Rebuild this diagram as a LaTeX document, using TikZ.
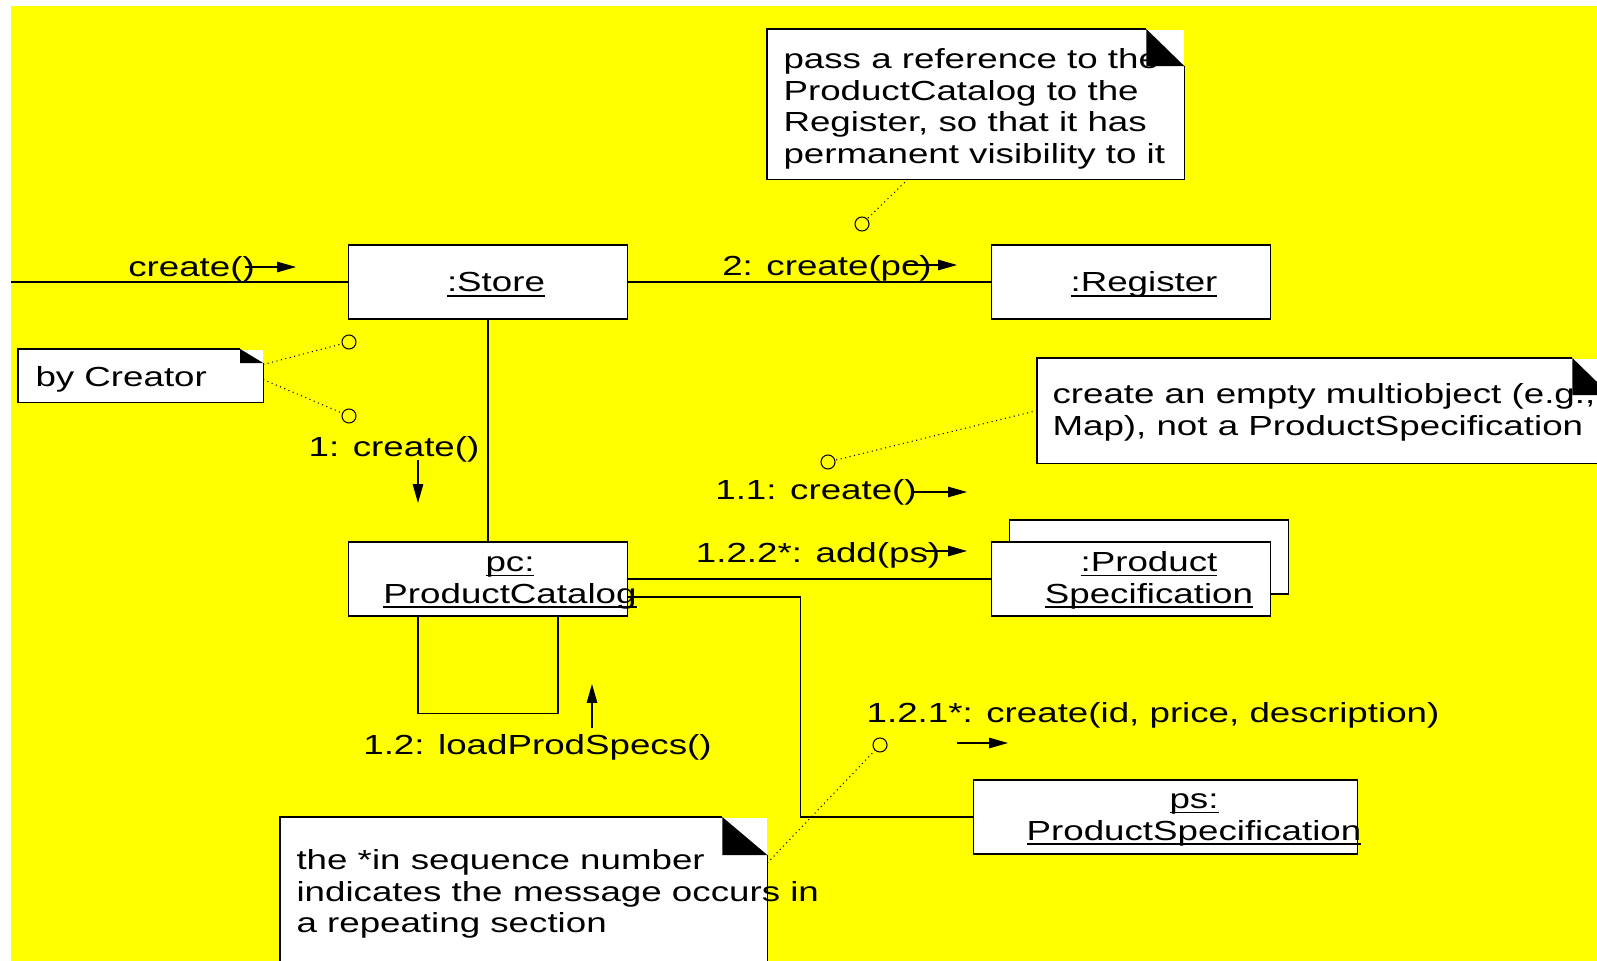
\documentclass[tikz,border=0pt]{standalone}
\usepackage{fontspec}
\setmainfont[FakeStretch=1.33]{Liberation Sans}
\usetikzlibrary{arrows.meta,calc}
\definecolor{canvas}{RGB}{255,255,0}
\tikzset{msg/.style = {-{Triangle[length=5.4pt,width=3pt]}}}

% underlined object name, line close under the baseline
\newcommand{\objname}[1]{\setbox0\hbox{#1}\rlap{\rule[-1.4pt]{\wd0}{0.5pt}}\box0}

% folded corner of a note: node, fold width, fold height
\newcommand{\dogear}[3]{%
  \draw ([xshift=-#2]#1.north east) -- (#1.north west) -- (#1.south west)
        -- (#1.south east) -- ([yshift=-#3]#1.north east);
  \fill ([xshift=-#2]#1.north east) -- ([xshift=-#2,yshift=-#3]#1.north east)
        -- ([yshift=-#3]#1.north east) -- cycle;}

\begin{document}
\begin{tikzpicture}[x=0.01cm,y=-0.01cm,line width=0.3pt,
    obj/.style={draw,fill=white,inner sep=0pt,minimum width=2.78cm,minimum height=0.74cm},
    lbl/.style={inner sep=0pt,anchor=base,font=\fontsize{7.85}{9}\selectfont},
    note/.style={fill=white,inner sep=0pt,anchor=north west},
    port/.style={circle,draw,inner sep=0pt,minimum size=0.14cm},
    link/.style={densely dotted,line width=0.3pt}]
    \fill[white] (0,0) rectangle (1597,961);
    \fill[canvas] (11,6) rectangle (1597,961);
    \useasboundingbox (0,0) rectangle (1597,961);

    % objects
    \node[obj] (store) at (488,282) {};
    \node[obj] (reg) at (1131,282) {};
    \node[obj] (pc) at (488,579) {};
    \node[obj] (specs2) at (1149,557) {};
    \node[obj] (specs) at (1131,579) {};
    \node[obj,minimum width=3.83cm] (ps) at (1165.5,817) {};

    \node[lbl] (storetxt) at (496,292) {\objname{:Store}};
    \node[lbl] (regtxt) at (1144,292) {\objname{:Register}};
    \node[lbl,align=center] (pctxt) at (510,603) {\objname{pc:}\\\objname{ProductCatalog}};
    \node[lbl,align=center] (specstxt) at (1149,603) {\objname{:Product}\\\objname{Specification}};
    \node[lbl,align=center] (pstxt) at (1194,840) {\objname{ps:}\\\objname{ProductSpecification}};

    % links
    \coordinate (start) at (11,282);
    \draw (start) -- (store);
    \path (store) edge (reg)
          (store) edge (pc)
          (pc) edge (specs);
    \draw ($(pc.south)+(-70,0)$) -- ++(0,97) -| ($(pc.south)+(70,0)$);
    \draw ($(pc.east)+(0,18)$) -| ($(ps.west)+(-173,0)$) -- (ps.west);

    % messages
    \node[lbl] (m0) at (191.5,277) {create()};
    \node[lbl] (m2) at (827,276) {2: create(pc)};
    \node[lbl] (m1) at (394,456) {1: create()};
    \node[lbl] (m11) at (816,499) {1.1: create()};
    \node[lbl] (m122) at (818,562) {1.2.2*: add(ps)};
    \node[lbl] (m12) at (537.5,754) {1.2: loadProdSpecs()};
    \node[lbl] (m121) at (1153,722) {1.2.1*: create(id, price, description)};

    \draw[msg] (245,267) -- ++(51,0);
    \draw[msg] (905,265) -- ++(52,0);
    \draw[msg] (418,460) -- ++(0,43);
    \draw[msg] (913,492) -- ++(54,0);
    \draw[msg] (925,551) -- ++(42,0);
    \draw[msg] (592,728) -- ++(0,-44);
    \draw[msg] (957,743) -- ++(51,0);

    % notes
    \node[note,minimum width=4.16cm,minimum height=1.49cm] (n1) at (767,29) {};
    \node[note,minimum width=2.44cm,minimum height=0.52cm] (n2) at (18,349) {};
    \node[note,minimum width=5.72cm,minimum height=1.04cm] (n3) at (1037,358) {};
    \node[note,minimum width=4.86cm,minimum height=1.60cm] (n4) at (280,817) {};

    \node[lbl,anchor=north west,align=left] (n1txt) at (783,48)
        {pass a reference to the\\ProductCatalog to the\\Register, so that it has\\permanent visibility to it};
    \node[lbl,anchor=base west] (n2txt) at (35,387) {by Creator};
    \node[lbl,anchor=north west,align=left] (n3txt) at (1052,383)
        {create an empty multiobject (e.g.,\\Map), not a ProductSpecification};
    \node[lbl,anchor=north west,align=left] (n4txt) at (296,849)
        {the *in sequence number\\indicates the message occurs in\\a repeating section};

    \dogear{n1}{0.38cm}{0.37cm}
    \dogear{n2}{0.23cm}{0.14cm}
    \dogear{n3}{0.38cm}{0.37cm}
    \dogear{n4}{0.45cm}{0.38cm}

    \node[port] (p1) at (349,342) {};
    \node[port] (p2) at (349,416) {};
    \node[port] (p3) at (862,224) {};
    \node[port] (p4) at (828,462) {};
    \node[port] (p5) at (880,745) {};

    \draw[link] ($(n2.east)+(0,-11)$) -- (p1);
    \draw[link] ($(n2.east)+(0,4)$) -- (p2);
    \draw[link] ($(n1.south west)+(141,0)$) -- (p3);
    \draw[link] (n3.west) -- (p4);
    \draw[link] ($(n4.north east)+(0,46)$) -- (p5);
\end{tikzpicture}
\end{document}
